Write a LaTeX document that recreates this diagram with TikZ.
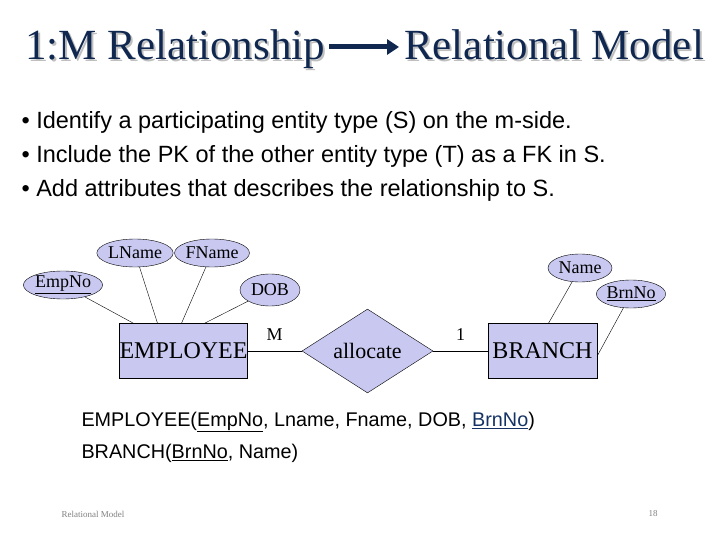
\documentclass[tikz,border=0pt]{standalone}
\usepackage{fontspec}
\setmainfont{Liberation Serif}
\newfontfamily\arial{Liberation Sans}
\usetikzlibrary{shapes.geometric,arrows.meta}
\definecolor{navy}{RGB}{16,40,80}
\definecolor{lav}{RGB}{200,200,240}
\definecolor{fkblue}{RGB}{20,50,100}
\begin{document}
\begin{tikzpicture}[x=1pt,y=-1pt,
  attr/.style={ellipse,draw,fill=lav,inner sep=0pt,minimum width=68pt,minimum height=28pt,font=\fontsize{18}{18}\selectfont},
  ent/.style={rectangle,draw,fill=lav,minimum width=127pt,minimum height=55pt,inner sep=0pt,font=\fontsize{24}{24}\selectfont},
  rel/.style={diamond,draw,fill=lav,minimum width=131pt,minimum height=65pt,inner sep=0pt,font=\fontsize{22}{22}\selectfont},
  bul/.style={anchor=west,font=\arial\fontsize{23.5}{23.5}\selectfont},
  rm/.style={anchor=west,font=\arial\fontsize{19.8}{19.8}\selectfont},
  ttl/.style={font=\fontsize{43}{43}\selectfont,text=navy,anchor=base west,inner sep=0pt}]
\useasboundingbox (0,0) rectangle (720,540);
% title
\node[ttl,text=gray!50] at (27,62) {1:M Relationship};
\node[ttl] (t1) at (25,60) {1:M Relationship};
\node[ttl,text=gray!50] at (406,62) {Relational Model};
\node[ttl] (t2) at (404,60) {Relational Model};
\draw[navy,line width=5pt,-{Triangle[length=12pt,width=15pt]}] ([xshift=4pt]t1.base east |- 0,47) -- ([xshift=-5pt]t2.base west |- 0,47);
% bullets
\node[bul] (b1) at (18,122) {• Identify a participating entity type (S) on the m-side.};
\node[bul] (b2) at (18,156) {• Include the PK of the other entity type (T) as a FK in S.};
\node[bul] (b3) at (18,190) {• Add attributes that describes the relationship to S.};
% ER
\node[ent] (emp) at (183.5,351) {EMPLOYEE};
\node[ent,minimum width=109pt] (br) at (542.5,351) {BRANCH};
\node[rel] (al) at (367.5,351) {allocate};
\node[attr] (empno) at (63,285) {\underline{EmpNo}};
\node[attr] (ln) at (135,253) {LName};
\node[attr] (fn) at (212,253) {FName};
\node[attr,minimum width=60pt,minimum height=32pt] (dob) at (270,290) {DOB};
\node[attr,minimum width=64pt] (nm) at (580,268) {Name};
\node[attr,minimum width=64pt] (bno) at (631,294) {\underline{BrnNo}};
\draw (empno) -- ([xshift=-50pt]emp.north);
\draw (ln) -- ([xshift=-26pt]emp.north);
\draw (fn) -- ([xshift=-2pt]emp.north);
\draw (dob) -- ([xshift=21pt]emp.north);
\draw (nm) -- ([xshift=6pt]br.north);
\draw (bno) -- ([yshift=-5pt]br.east);
\draw (emp.east) -- node[above=7pt,pos=0.5,font=\fontsize{18}{18}\selectfont] (m) {M} (al.west);
\draw (al.east) -- node[above=7pt,pos=0.5,font=\fontsize{18}{18}\selectfont] (one) {1} (br.west);
% relational
\node[rm] (r1) at (78,422) {EMPLOYEE(\underline{EmpNo}, Lname, Fname, DOB, \textcolor{fkblue}{\underline{BrnNo}})};
\node[rm] (r2) at (78,453) {BRANCH(\underline{BrnNo}, Name)};
% footer
\node[anchor=west,font=\fontsize{9}{9}\selectfont,text=gray] (f1) at (58,514) {Relational Model};
\node[font=\fontsize{9}{9}\selectfont,text=gray] (f2) at (653,514) {18};
\end{tikzpicture}
\end{document}
